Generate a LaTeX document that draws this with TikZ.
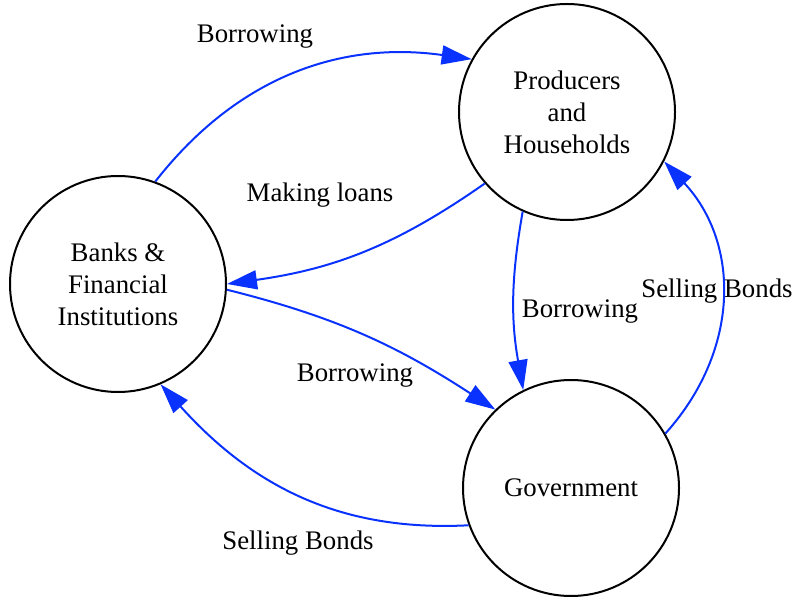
\documentclass[tikz,border=0pt]{standalone}
\usepackage{fontspec}
\setmainfont{Liberation Serif}
\usetikzlibrary{arrows.meta}
\definecolor{flowblue}{RGB}{10,50,255}

\begin{document}
\begin{tikzpicture}[x=0.5pt,y=0.5pt,
    sector/.style={draw=black,line width=1pt,circle,minimum size=108pt,inner sep=0pt,
      align=center,font=\fontsize{13.4}{16}\selectfont},
    flow/.style={draw=flowblue,line width=1pt,-{Triangle[length=15pt,width=9.5pt]}},
    lbl/.style={font=\fontsize{13.4}{16}\selectfont,inner sep=0pt}]
    \useasboundingbox (0,0) rectangle (795,599);
    \node[sector] (banks) at (118,315) {Banks \&\\Financial\\Institutions};
    \node[sector] (prod) at (567,487) {Producers\\and\\Households};
    \node[sector] (gov) at (571,111) {Government};
    \draw[flow] (banks.70) to[out=52,in=172] (prod.151);
    \draw[flow] (prod.221) to[out=215,in=8] (banks.0);
    \draw[flow] (banks.-3) to[out=-14,in=147] (gov.134);
    \draw[flow] (gov.200) to[out=183,in=-48] (banks.293);
    \draw[flow] (prod.246) to[out=260,in=100] (gov.116);
    \draw[flow] (gov.30) to[out=48,in=-47,looseness=1.05] (prod.333);
    \node[lbl] (l1) at (255,562) {Borrowing};
    \node[lbl] (l2) at (320,404) {Making loans};
    \node[lbl] (l3) at (355,223) {Borrowing};
    \node[lbl] (l4) at (298,56) {Selling Bonds};
    \node[lbl] (l5) at (580,287) {Borrowing};
    \node[lbl] (l6) at (717,308) {Selling Bonds};
\end{tikzpicture}
\end{document}
